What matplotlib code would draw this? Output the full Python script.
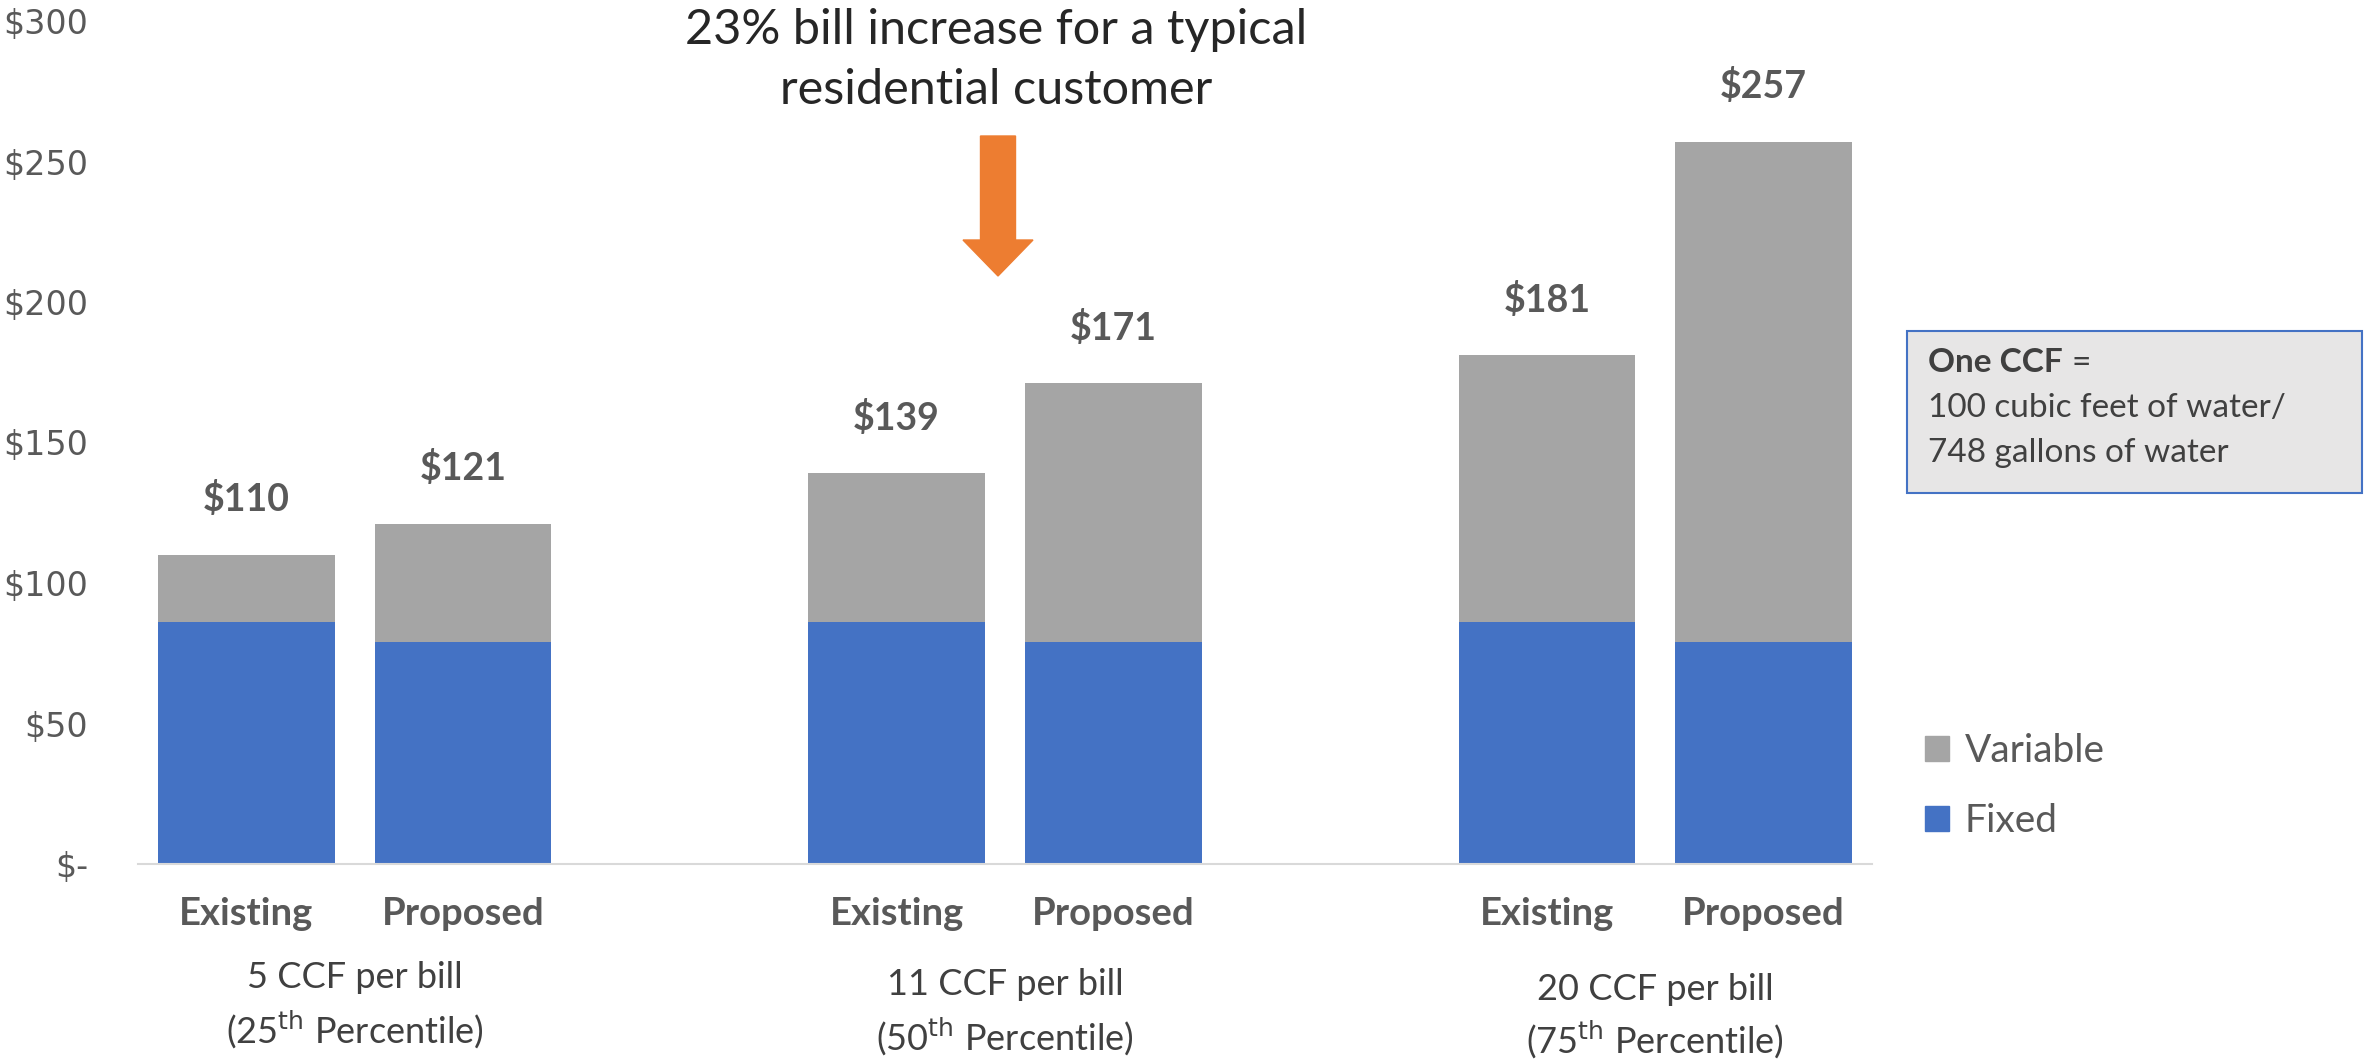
import matplotlib
matplotlib.use("Agg")
import matplotlib.pyplot as plt
from matplotlib.patches import Patch, Rectangle, FancyArrow

plt.rcParams['font.family'] = ['Lato', 'DejaVu Sans']

# bill components per scenario, ($)
scenarios = ['Existing', 'Proposed', '', 'Existing', 'Proposed', '', 'Existing', 'Proposed']
fixed = [86, 79, None, 86, 79, None, 86, 79]
totals = [110, 121, None, 139, 171, None, 181, 257]
groups = ['5 CCF per bill', '11 CCF per bill', '20 CCF per bill']
pctl = ['25', '50', '75']
yticks = [0, 50, 100, 150, 200, 250, 300]

BLUE = '#4472C4'
GRAY = '#A5A5A5'
TXT = '#595959'

W, H = 2364, 1060
fig = plt.figure(figsize=(W / 100, H / 100), dpi=100)
ax = fig.add_axes([138 / W, 1 - 864 / H, (1872 - 138) / W, (864 - 21) / H])

xs = [i for i, t in enumerate(totals) if t is not None]
fx = [fixed[i] for i in xs]
var = [totals[i] - fixed[i] for i in xs]
ax.bar(xs, fx, width=0.815, color=BLUE)
ax.bar(xs, var, bottom=fx, width=0.815, color=GRAY)

for x, t in zip(xs, [totals[i] for i in xs]):
    ax.annotate(f'${t}', (x, t), xytext=(0, 40), textcoords='offset points',
                ha='center', va='center', fontsize=27, fontweight='bold', color=TXT)

ax.set_xlim(-0.5, 7.5)
ax.set_ylim(0, 300)
ax.set_yticks(yticks)
ax.set_yticklabels(['$-' if v == 0 else f'${v}' for v in yticks],
                   fontsize=24, color=TXT, family='DejaVu Sans')
ax.set_xticks(range(len(scenarios)))
ax.set_xticklabels(scenarios, fontsize=27.5, fontweight='bold', color=TXT)
ax.tick_params(axis='both', length=0)
ax.tick_params(axis='y', pad=36)
ax.tick_params(axis='x', pad=24)
for s in ['top', 'right', 'left']:
    ax.spines[s].set_visible(False)
ax.spines['bottom'].set_color('#D9D9D9')
ax.spines['bottom'].set_linewidth(1.5)

# group captions under each pair of bars
offs = [(-82, -119), (-87, -124), (-90, -126)]
for g, (name, p) in enumerate(zip(groups, pctl)):
    cx = 3 * g + 0.5
    ax.annotate(name, (cx, 0), xytext=(0, offs[g][0]), textcoords='offset points',
                ha='center', va='center', fontsize=26, color='#404040')
    ax.annotate(f'({p}$^{{\\mathrm{{th}}}}$ Percentile)', (cx, 0), xytext=(0, offs[g][1]),
                textcoords='offset points', ha='center', va='center',
                fontsize=26, color='#404040')

# headline with arrow pointing at the typical customer
fig.text(996 / W, 1 - 30 / H, '23% bill increase for a typical', ha='center', va='center',
         fontsize=35, color='#262626')
fig.text(996 / W, 1 - 90 / H, 'residential customer', ha='center', va='center',
         fontsize=35, color='#262626')
fig.patches.append(FancyArrow(998 / W, 1 - 136 / H, 0, -(276 - 136) / H,
                              width=35 / W, head_width=70 / W, head_length=36 / H,
                              length_includes_head=True, color='#ED7D31',
                              transform=fig.transFigure))

# unit note box
fig.patches.append(Rectangle((1907 / W, 1 - 493 / H), (2362 - 1907) / W, (493 - 331) / H,
                             transform=fig.transFigure, facecolor='#E7E6E6',
                             edgecolor=BLUE, linewidth=1.5))
fig.text(1928 / W, 1 - 363 / H, 'One CCF', fontweight='bold', fontsize=24,
         color='#404040', va='center')
fig.text(2072 / W, 1 - 363 / H, '=', fontsize=24, color='#404040', va='center')
fig.text(1928 / W, 1 - 408 / H, '100 cubic feet of water/', fontsize=24,
         color='#404040', va='center')
fig.text(1928 / W, 1 - 453 / H, '748 gallons of water', fontsize=24,
         color='#404040', va='center')

handles = [Patch(color=GRAY, label='Variable'), Patch(color=BLUE, label='Fixed')]
fig.legend(handles=handles, loc='upper left', bbox_to_anchor=(1925 / W, 1 - 733 / H),
           frameon=False, fontsize=28, labelcolor=TXT, handlelength=0.62,
           handleheight=0.62, handletextpad=0.4, labelspacing=0.88,
           borderpad=0, borderaxespad=0)

fig.savefig('out.png', dpi=100)
